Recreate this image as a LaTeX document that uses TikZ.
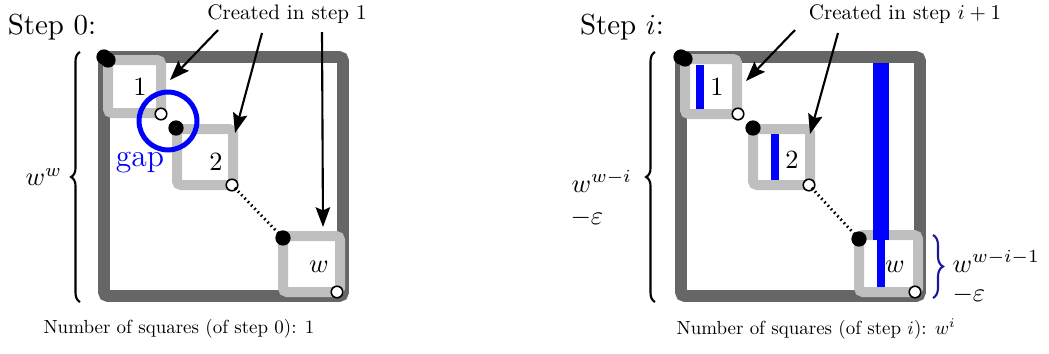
\documentclass[tikz,border=0pt]{standalone}
\usepackage{amsmath}
\usetikzlibrary{arrows.meta,decorations.pathreplacing}
\definecolor{darkgr}{gray}{0.4}
\definecolor{lightgr}{gray}{0.75}
\definecolor{bracebl}{rgb}{0.1,0.1,0.6}
\tikzset{
  outersq/.style={darkgr, line width=4.5pt, rounded corners=1.5pt},
  innersq/.style={lightgr, line width=3.8pt, rounded corners=1.5pt},
  blackdot/.style={circle, fill=black, inner sep=0pt, minimum size=5.8pt},
  whitedot/.style={circle, fill=white, draw=black, line width=0.6pt, inner sep=0pt, minimum size=4.4pt},
  gapline/.style={line width=1.1pt, dash pattern=on 0.6pt off 1.2pt, shorten <=-1pt, shorten >=-1pt},
  pointer/.style={-{Stealth[length=7.5pt,width=5.5pt,inset=1.2pt]}, line width=0.8pt},
  bigbrace/.style={decorate, decoration={brace, amplitude=3.4pt}, thick},
  sizelabel/.style={anchor=base west, inner sep=0pt},
}
\newcommand{\steptext}[1]{\scalebox{1.1}{#1}}
\newcommand{\createtext}[1]{\scalebox{0.8}{#1}}
\newcommand{\counttext}[1]{\scalebox{0.72}{#1}}

\begin{document}
\begin{tikzpicture}[x=0.38pt, y=-0.38pt]
\useasboundingbox (0,0) rectangle (1049,354);

% step 0
\draw[outersq] (104,57) rectangle (343,296);
\foreach \a/\b/\c/\d in {108/60/161/113, 177/129/233/185, 283/236/340/292}
  \draw[innersq] (\a,\b) rectangle (\c,\d);

\node[blackdot] (lb0) at (104,57) {};
\node[blackdot] (lb1) at (108,60) {};
\node[whitedot] (le1) at (161,114) {};
\node[blackdot] (lb2) at (176,128) {};
\node[whitedot] (le2) at (232,185) {};
\node[blackdot] (lbw) at (283,238) {};
\node[whitedot] (lew) at (337,292) {};
\draw[gapline] (le2) -- (lbw);

\node (ln1) at (140,87) {1};
\node (ln2) at (216,162) {2};
\node (lnw) at (319,267) {$w$};

\draw[blue, line width=1.9pt] (168,121) circle (11pt);
\node[blue, font=\large] (lgap) at (140,163) {gap};

\node (lstep) at (52,27) {\steptext{Step 0:}};
\node (lcre) at (287,14) {\createtext{Created in step 1}};
\coordinate (la1) at (218,30);
\coordinate (la2) at (262,33);
\coordinate (la3) at (322,32);
\coordinate (lt1) at (170,80);
\coordinate (lt2) at (235,133);
\coordinate (lt3) at (323,227);
\draw[pointer] (la1) -- (lt1);
\draw[pointer] (la2) -- (lt2);
\draw[pointer] (la3) -- (lt3);

\draw[bigbrace] (80,302) -- (80,52) node[midway, left=3pt] (lsize) {$w^w$};
\node (lcount) at (179,329) {\counttext{Number of squares (of step 0): 1}};

% step i
\draw[outersq] (681,57) rectangle (920,296);
\foreach \a/\b/\c/\d in {685/59/737/114, 753/129/810/185, 859/235/918/292}
  \draw[innersq] (\a,\b) rectangle (\c,\d);

\fill[blue] (696,65) rectangle (704,109);
\fill[blue] (771,134) rectangle (779,180);
\fill[blue] (873,63) rectangle (889,240);
\fill[blue] (877,240) rectangle (885,287);

\node[blackdot] (rb0) at (681,57) {};
\node[blackdot] (rb1) at (685,59) {};
\node[whitedot] (re1) at (738,114) {};
\node[blackdot] (rb2) at (753,128) {};
\node[whitedot] (re2) at (809,185) {};
\node[blackdot] (rbw) at (859,239) {};
\node[whitedot] (rew) at (915,292) {};
\draw[gapline] (re2) -- (rbw);

\node (rn1) at (717,87) {1};
\node (rn2) at (792,160) {2};
\node (rnw) at (895,267) {$w$};

\node (rstep) at (622,27) {\steptext{Step $i$:}};
\node (rcre) at (905,14) {\createtext{Created in step $i+1$}};
\coordinate (ra1) at (795,30);
\coordinate (ra2) at (838,33);
\coordinate (rt1) at (746,81);
\coordinate (rt2) at (810,134);
\draw[pointer] (ra1) -- (rt1);
\draw[pointer] (ra2) -- (rt2);

\draw[bigbrace] (655,302) -- (655,52);
\node[sizelabel] (rsize) at (571,192) {$w^{w-i}$};
\node[sizelabel] (rsizeeps) at (570,224) {$-\varepsilon$};
\draw[bracebl, decorate, decoration={brace, amplitude=3.8pt}, thick] (933,235) -- (933,298);
\node[sizelabel] (rsub) at (952,272) {$w^{w-i-1}$};
\node[sizelabel] (rsubeps) at (952,301) {$-\varepsilon$};
\node (rcount) at (816,329) {\counttext{Number of squares (of step $i$): $w^i$}};
\end{tikzpicture}
\end{document}
